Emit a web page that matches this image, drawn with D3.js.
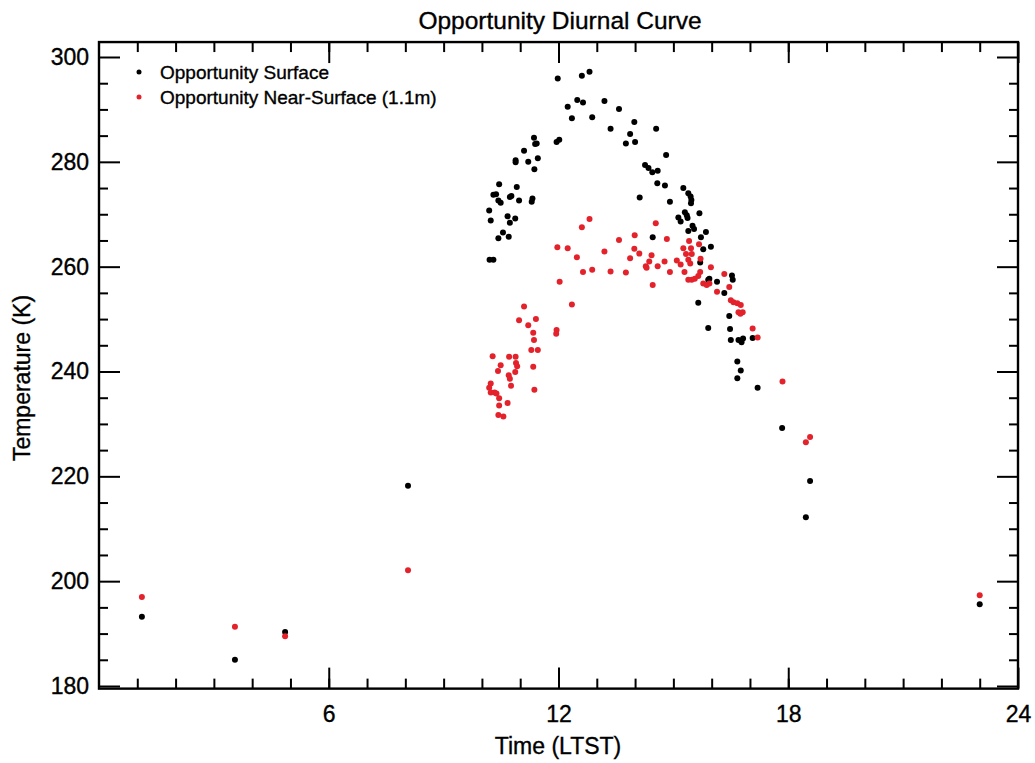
<!DOCTYPE html>
<html>
<head>
<meta charset="utf-8">
<script src="https://cdn.jsdelivr.net/npm/d3@7"></script>
<style>
  body { margin: 0; background: #fff; }
  svg { font-family: 'Liberation Sans', Arial, sans-serif; }
  svg text { fill: #000; stroke: #000; stroke-width: 0.35px; }
</style>
</head>
<body>
<svg id="chart" width="1035" height="763"></svg>
<script>
// Opportunity surface temperature (black)
const surfaceTime = [11.98, 12.61, 12.81, 12.24, 12.49, 12.64, 13.20, 13.58, 12.35, 12.88, 13.98, 13.36, 13.87, 14.00, 13.76,
    11.36, 11.39, 11.43, 11.95, 12.02, 11.10, 11.46, 10.88, 10.88, 11.21, 11.37, 10.45, 10.91, 10.30, 10.37,
    10.73, 10.77, 10.43, 10.49, 10.97, 11.32, 11.30, 10.19, 10.67, 10.87, 10.23, 10.73, 10.55, 10.43, 10.70,
    10.20, 10.30, 14.12, 14.55, 14.26, 14.35, 14.45, 14.59, 14.58, 14.78, 14.46, 14.91, 15.26, 15.39, 15.45,
    15.47, 15.46, 15.68, 15.30, 15.13, 15.19, 15.35, 15.37, 15.50, 15.54, 15.39, 15.85, 15.72, 15.98, 15.78,
    15.70, 15.94, 15.91, 16.14, 16.53, 16.55, 16.33, 15.65, 16.46, 15.91, 16.48, 16.50, 16.70, 16.78, 16.82,
    17.07, 16.67, 16.76, 16.67, 17.20, 14.81,
    1.12, 3.55, 4.86, 8.07, 17.84, 18.46, 18.57, 23.0];
const surfaceTemp = [295.9, 296.4, 297.2, 290.5, 291.8, 291.3, 291.6, 290.1, 288.3, 288.5, 287.6, 286.3, 285.3, 283.8, 283.5,
    284.6, 283.4, 283.5, 283.8, 284.2, 282.1, 280.7, 280.3, 279.9, 280.0, 278.6, 275.7, 275.2, 273.7, 273.8,
    273.3, 273.5, 272.6, 272.2, 272.6, 273.0, 272.4, 270.7, 269.6, 269.2, 268.8, 268.4, 266.5, 265.4, 265.7,
    261.3, 261.3, 273.2, 286.3, 279.4, 278.8, 278.0, 278.3, 275.9, 275.5, 265.6, 272.4, 275.0, 274.0, 273.4,
    272.7, 272.1, 270.2, 270.4, 269.4, 268.6, 269.8, 269.3, 267.8, 267.2, 266.8, 266.6, 265.6, 263.8, 263.3,
    260.8, 257.7, 257.5, 257.1, 258.3, 257.5, 255.0, 253.1, 250.6, 248.3, 248.1, 246.0, 246.0, 245.6, 246.3,
    246.4, 241.9, 240.2, 238.7, 236.9, 281.3,
    193.2, 185.0, 190.3, 218.2, 229.2, 212.2, 219.1, 195.6];

// Opportunity near-surface (1.1 m) air temperature (red)
const nearTime = [12.81, 12.61, 14.54, 13.99, 13.58, 11.97, 12.24, 12.48, 12.03, 12.35, 13.20, 13.98, 14.11, 13.87, 14.43,
    14.37, 14.28, 14.30, 14.59, 14.77, 12.64, 12.88, 13.36, 13.76, 14.46, 14.83, 15.41, 15.67, 15.26, 15.46,
    15.33, 15.48, 15.09, 15.19, 15.39, 15.44, 15.71, 15.98, 14.91, 15.29, 15.70, 15.65, 15.56, 15.48, 15.39,
    16.33, 15.78, 15.87, 15.94, 16.46, 16.14, 16.50, 16.57, 16.67, 16.76, 16.70, 16.81, 16.75, 17.07, 17.20,
    17.85, 11.10, 10.97, 11.41, 11.21, 11.34, 11.36, 11.95, 11.94, 11.29, 11.46, 10.28, 10.71, 10.88, 10.49,
    10.89, 10.92, 11.34, 10.42, 10.87, 10.70, 10.73, 10.76, 10.23, 10.19, 10.23, 10.33, 10.38, 10.45, 11.37,
    10.67, 10.45, 10.43, 10.56,
    1.12, 3.55, 4.86, 8.07, 18.46, 18.57, 23.0];
const nearTemp = [269.1, 267.5, 268.3, 266.0, 265.1, 263.7, 263.5, 261.8, 257.1, 252.8, 262.9, 263.4, 262.5, 261.6, 262.2,
    261.0, 260.1, 259.8, 260.1, 261.0, 259.0, 259.4, 259.1, 258.9, 256.5, 265.3, 264.9, 264.3, 263.5, 263.5,
    262.4, 262.4, 261.2, 260.4, 261.3, 260.6, 261.5, 259.9, 259.0, 259.0, 259.0, 258.2, 257.7, 257.5, 257.5,
    258.6, 256.8, 256.5, 256.8, 256.1, 255.2, 253.6, 253.2, 253.0, 252.7, 251.3, 251.3, 251.0, 248.2, 246.5,
    238.1, 252.4, 249.8, 250.0, 248.8, 247.4, 246.0, 247.9, 247.2, 244.1, 244.1, 242.9, 242.8, 242.8, 241.2,
    241.6, 241.0, 240.9, 240.1, 239.9, 239.3, 238.6, 237.3, 237.7, 236.9, 236.0, 236.0, 235.8, 234.9, 236.5,
    234.0, 233.5, 231.7, 231.4,
    197.0, 191.3, 189.5, 202.1, 226.5, 227.5, 197.3];

const xMajor = [6, 12, 18, 24];
const yMajor = [180, 200, 220, 240, 260, 280, 300];

const series = [
    { label: 'Opportunity Surface', color: '#000000', time: surfaceTime, temp: surfaceTemp },
    { label: 'Opportunity Near-Surface (1.1m)', color: '#e3222b', time: nearTime, temp: nearTemp }
];

const svg = d3.select('#chart');

const x = d3.scaleLinear().domain([0, 24]).range([99, 1018]);
const y = d3.scaleLinear().domain([180, 300]).range([686, 57]);

const frameL = x(0), frameR = x(24), frameT = y(302.85), frameB = y(179.5);

// inward ticks on all four sides
const minorX = d3.range(1, 24);
const minorY = d3.range(185, 302, 5).filter(v => v % 20 !== 0);

svg.append('g')
    .attr('transform', `translate(0,${frameB})`)
    .call(d3.axisBottom(x).tickValues(minorX).tickSize(-10).tickFormat(''));
svg.append('g')
    .attr('transform', `translate(0,${frameB})`)
    .call(d3.axisBottom(x).tickValues(xMajor).tickSize(-21).tickPadding(17));
svg.append('g')
    .attr('transform', `translate(0,${frameT})`)
    .call(d3.axisTop(x).tickValues(minorX).tickSize(-10).tickFormat(''));
svg.append('g')
    .attr('transform', `translate(0,${frameT})`)
    .call(d3.axisTop(x).tickValues(xMajor).tickSize(-21).tickFormat(''));

svg.append('g')
    .attr('transform', `translate(${frameL},0)`)
    .call(d3.axisLeft(y).tickValues(minorY).tickSize(-9).tickFormat(''));
svg.append('g')
    .attr('transform', `translate(${frameL},0)`)
    .call(d3.axisLeft(y).tickValues(yMajor).tickSize(-21).tickPadding(10));
svg.append('g')
    .attr('transform', `translate(${frameR},0)`)
    .call(d3.axisRight(y).tickValues(minorY).tickSize(-9).tickFormat(''));
svg.append('g')
    .attr('transform', `translate(${frameR},0)`)
    .call(d3.axisRight(y).tickValues(yMajor).tickSize(-21).tickFormat(''));

svg.selectAll('.domain').remove();
svg.selectAll('.tick line').attr('stroke', '#000').attr('stroke-width', 2);
svg.selectAll('.tick text')
    .style('font-size', '23px')
    .style('font-family', "'Liberation Sans', Arial, sans-serif");

// frame
svg.append('rect')
    .attr('x', frameL).attr('y', frameT)
    .attr('width', frameR - frameL).attr('height', frameB - frameT)
    .attr('fill', 'none')
    .attr('stroke', '#000')
    .attr('stroke-width', 2.4);

// points
series.forEach(s => {
    svg.append('g')
        .selectAll('circle')
        .data(s.time.map((t, i) => [t, s.temp[i]]))
        .join('circle')
        .attr('cx', d => x(d[0]))
        .attr('cy', d => y(d[1]))
        .attr('r', 3)
        .attr('fill', s.color);
});

// legend
const legend = svg.append('g').attr('transform', 'translate(139,72)');
series.forEach((s, i) => {
    const row = legend.append('g').attr('transform', `translate(0,${i * 25})`);
    row.append('circle').attr('r', 2.5).attr('fill', s.color);
    row.append('text')
        .attr('x', 21).attr('y', 6.5)
        .style('font-size', '19px')
        .text(s.label);
});

// titles
svg.append('text')
    .attr('x', 560).attr('y', 29)
    .attr('text-anchor', 'middle')
    .style('font-size', '24.5px')
    .text('Opportunity Diurnal Curve');

svg.append('text')
    .attr('x', 558).attr('y', 754)
    .attr('text-anchor', 'middle')
    .style('font-size', '23px')
    .text('Time (LTST)');

svg.append('text')
    .attr('transform', 'translate(30,378) rotate(-90)')
    .attr('text-anchor', 'middle')
    .style('font-size', '23px')
    .text('Temperature (K)');
</script>
</body>
</html>
